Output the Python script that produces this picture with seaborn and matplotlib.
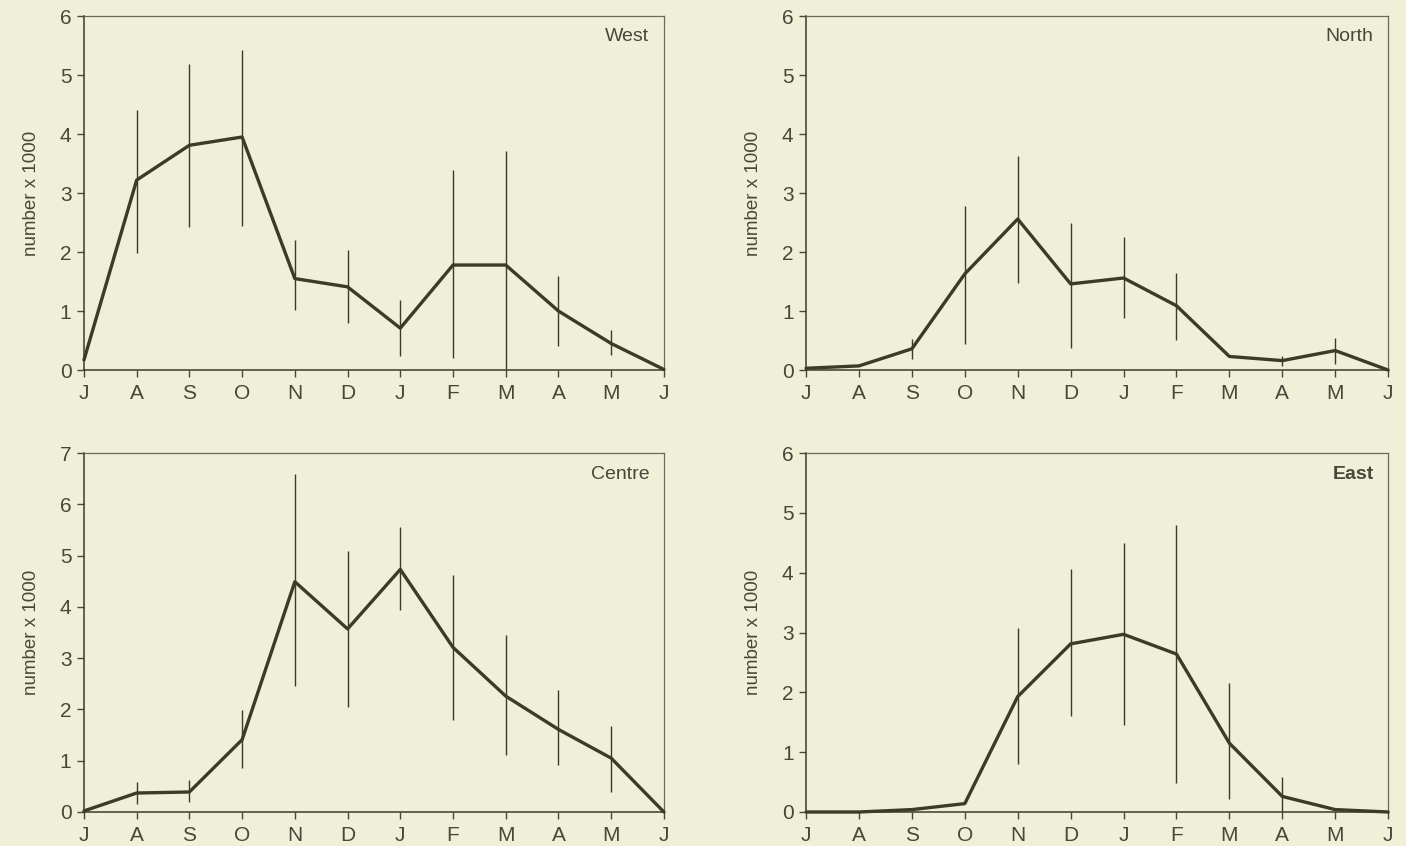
import matplotlib
matplotlib.use("Agg")
import matplotlib.pyplot as plt
import seaborn as sns
import pandas as pd
import numpy as np

# === DATA (number x 1000) ===
months = ["J", "A", "S", "O", "N", "D", "J", "F", "M", "A", "M", "J"]

west_mean = [0.17, 3.22, 3.81, 3.95, 1.55, 1.41, 0.71, 1.78, 1.78, 1.00, 0.45, 0.01]
west_lo = [None, 1.98, 2.43, 2.45, 1.02, 0.79, 0.24, 0.20, 0.00, 0.40, 0.25, None]
west_hi = [None, 4.40, 5.19, 5.43, 2.20, 2.04, 1.19, 3.39, 3.72, 1.59, 0.68, None]

north_mean = [0.03, 0.07, 0.36, 1.63, 2.56, 1.46, 1.56, 1.09, 0.23, 0.16, 0.33, 0.00]
north_lo = [None, None, 0.19, 0.44, 1.48, 0.38, 0.89, 0.51, None, 0.07, 0.11, None]
north_hi = [None, None, 0.52, 2.78, 3.63, 2.50, 2.25, 1.64, None, 0.24, 0.55, None]

centre_mean = [0.02, 0.37, 0.39, 1.41, 4.49, 3.57, 4.73, 3.21, 2.26, 1.61, 1.05, 0.00]
centre_lo = [None, 0.16, 0.20, 0.85, 2.46, 2.05, 3.93, 1.80, 1.11, 0.92, 0.39, None]
centre_hi = [None, 0.59, 0.62, 1.98, 6.59, 5.08, 5.56, 4.62, 3.46, 2.37, 1.67, None]

east_mean = [0.00, 0.00, 0.04, 0.14, 1.93, 2.81, 2.97, 2.64, 1.15, 0.26, 0.04, 0.00]
east_lo = [None, None, None, None, 0.81, 1.60, 1.45, 0.49, 0.21, 0.00, None, None]
east_hi = [None, None, None, None, 3.08, 4.06, 4.50, 4.80, 2.15, 0.58, None, None]

# === STYLE ===
BG = "#f0efd8"
INK = "#3b3b26"
TXT = "#48483a"

sns.set_theme(style="ticks")
plt.rcParams["font.family"] = ["Liberation Sans", "DejaVu Sans"]
plt.rcParams["text.color"] = TXT
plt.rcParams["axes.labelcolor"] = TXT
plt.rcParams["xtick.color"] = TXT
plt.rcParams["ytick.color"] = TXT

fig = plt.figure(figsize=(14.06, 8.46), dpi=100, facecolor=BG)

panels = [
    ("West", west_mean, west_lo, west_hi, 6, [0.0597, 0.5626, 0.4125, 0.4184]),
    ("North", north_mean, north_lo, north_hi, 6, [0.5733, 0.5626, 0.4140, 0.4184]),
    ("Centre", centre_mean, centre_lo, centre_hi, 7, [0.0597, 0.0402, 0.4125, 0.4243]),
    ("East", east_mean, east_lo, east_hi, 6, [0.5733, 0.0402, 0.4140, 0.4243]),
]

for name, mean, lo, hi, ymax, pos in panels:
    ax = fig.add_axes(pos)
    ax.set_facecolor(BG)
    df = pd.DataFrame({
        "month": np.arange(len(months)),
        "mean": mean,
        "lo": pd.to_numeric(pd.Series(lo), errors="coerce"),
        "hi": pd.to_numeric(pd.Series(hi), errors="coerce"),
    })

    # error bars (asymmetric, no caps)
    eb = df.dropna(subset=["lo", "hi"])
    ax.errorbar(eb["month"], eb["mean"],
                yerr=[eb["mean"] - eb["lo"], eb["hi"] - eb["mean"]],
                fmt="none", ecolor=INK, elinewidth=1.0, capsize=0, zorder=2)

    sns.lineplot(data=df, x="month", y="mean", ax=ax, color=INK,
                 linewidth=2.4, zorder=3, clip_on=False)

    ax.set_xlim(0, len(months) - 1)
    ax.set_ylim(0, ymax)
    ax.set_xticks(np.arange(len(months)))
    ax.set_xticklabels(months)
    ax.set_yticks(np.arange(0, ymax + 1))
    ax.set_xlabel("")
    ax.set_ylabel("number x 1000", fontsize=13.5, labelpad=14)
    ax.tick_params(axis="both", labelsize=15, length=5, width=1.0, pad=4)
    ax.tick_params(axis="x", pad=5)

    for side in ["left", "bottom"]:
        ax.spines[side].set_color(INK)
        ax.spines[side].set_linewidth(1.1)
    for side in ["top", "right"]:
        ax.spines[side].set_visible(True)
        ax.spines[side].set_color("#6a6a5a")
        ax.spines[side].set_linewidth(0.9)

    ax.text(0.975, 0.965, name, transform=ax.transAxes, ha="right", va="top",
            fontsize=14, color=TXT,
            fontweight="bold" if name == "East" else "normal")

fig.savefig("out.png", dpi=100, facecolor=BG)
